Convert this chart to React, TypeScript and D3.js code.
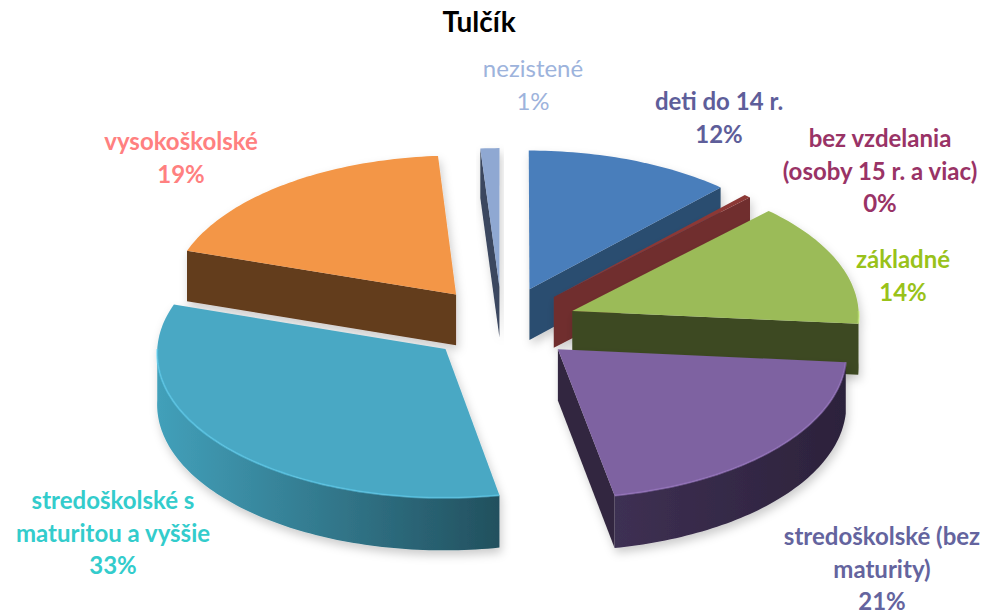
import React, { useMemo } from 'react';
import * as d3 from 'd3';

// chart data
const title = 'Tulčík';
const categories = [
  'deti do 14 r.',
  'bez vzdelania\n(osoby 15 r. a viac)',
  'základné',
  'stredoškolské (bez\nmaturity)',
  'stredoškolské s\nmaturitou a vyššie',
  'vysokoškolské',
  'nezistené',
];
const shares = [12.0, 0.4, 14.0, 20.6, 33.0, 18.9, 1.1];

// styling
const topColors = ['#4a7ebb', '#8c3836', '#9bbb59', '#7e62a1', '#4aa8c4', '#f39646', '#8fa8d2'];
const sideColors = ['#2c4d6f', '#702d2d', '#3e4a21', '#33283f', '#2f7a90', '#633c1e', '#3a465e'];
const wallLight = ['#365c84', '#7a3232', '#4a5a28', '#3e3053', '#42a0ba', '#6e4322', '#43506a'];
const wallDark = ['#243f5c', '#5e2626', '#37421c', '#2c223b', '#22505e', '#53321a', '#323c52'];
const labelColors = ['#5e5e9a', '#993366', '#99c21a', '#64649e', '#33cccc', '#ff8080', '#9db3dc'];
const labelBold = [true, true, true, true, true, true, false];
const labelPos = [[719, 110], [880, 147], [903, 268], [882, 545], [113, 509], [181, 150], [533, 77]];

const W = 987;
const H = 616;
const cx = 502, cy = 324;
const rx = 287, ry = 144;
const depth = 51;
const explode = 75;
const persp = 0.025;
const font = 'Lato, "Open Sans", sans-serif';

// model coords (x units) -> screen, with a light perspective toward the viewer
function project(mx: number, my: number, z: number): [number, number] {
  const f = 1 + persp * my / rx;
  return [cx + mx * f, cy + (my * (ry / rx) + z) * f];
}

export default function App() {
  const slices = useMemo(() => {
    const arcs = d3.pie<number>().sort(null).value(d => d)(shares);
    return arcs.map((a, i) => {
      const mid = (a.startAngle + a.endAngle) / 2;
      const ox = explode * Math.sin(mid);
      const oy = -explode * Math.cos(mid);
      const pt = (ang: number, z: number) => project(ox + rx * Math.sin(ang), oy - rx * Math.cos(ang), z);
      const vTop = project(ox, oy, 0);
      const vBot = project(ox, oy, depth);
      const sample = (a0: number, a1: number) => {
        const n = Math.max(2, Math.ceil(Math.abs(a1 - a0) / 0.02));
        return d3.range(n + 1).map(k => a0 + (a1 - a0) * k / n);
      };
      const line = d3.line();
      const top = line([vTop, ...sample(a.startAngle, a.endAngle).map(t => pt(t, 0))]) + 'Z';

      const walls: string[] = [];
      // radial walls that face the viewer
      if (Math.sin(a.startAngle) < 0) {
        walls.push(line([vTop, pt(a.startAngle, 0), pt(a.startAngle, depth), vBot]) + 'Z');
      }
      if (Math.sin(a.endAngle) > 0) {
        walls.push(line([vTop, pt(a.endAngle, 0), pt(a.endAngle, depth), vBot]) + 'Z');
      }
      let outer: string | null = null;
      let rim: string | null = null;
      const lo = Math.max(a.startAngle, Math.PI / 2);
      const hi = Math.min(a.endAngle, Math.PI * 1.5);
      if (lo < hi) {
        const s = sample(lo, hi);
        const upper = s.map(t => pt(t, 0));
        const lower = s.slice().reverse().map(t => pt(t, depth));
        outer = line([...upper, ...lower]) + 'Z';
        rim = line(upper);
      }
      return { i, mid, top, walls, outer, rim };
    });
  }, []);

  // paint back slices first
  const order = slices.slice().sort((p, q) => -Math.cos(p.mid) - -Math.cos(q.mid));

  return (
    <svg width={W} height={H} style={{ position: 'absolute', left: 0, top: 0, display: 'block', background: '#fff' }}>
      <defs>
        <filter id="shadow" x="-20%" y="-20%" width="140%" height="150%">
          <feDropShadow dx="2" dy="5" stdDeviation="5" floodColor="#000" floodOpacity="0.2" />
        </filter>
        {slices.map(s => (
          <linearGradient key={s.i} id={`wall${s.i}`} x1="0" x2="1" y1="0" y2="0">
            <stop offset="0" stopColor={wallLight[s.i]} />
            <stop offset="1" stopColor={wallDark[s.i]} />
          </linearGradient>
        ))}
      </defs>
      <rect width={W} height={H} fill="#fff" />
      <text x={479} y={32} textAnchor="middle" fontFamily={font} fontWeight="bold" fontSize={28} fill="#000">
        {title}
      </text>
      {order.map(s => (
        <g key={s.i} filter="url(#shadow)">
          {s.walls.map((w, k) => (
            <path key={k} d={w} fill={sideColors[s.i]} />
          ))}
          {s.outer && <path d={s.outer} fill={`url(#wall${s.i})`} />}
          <path d={s.top} fill={topColors[s.i]} />
          {s.rim && (
            <path d={s.rim} fill="none" stroke={d3.color(topColors[s.i])!.brighter(0.6).formatHex()}
              strokeWidth={2} strokeOpacity={0.55} />
          )}
        </g>
      ))}
      {categories.map((c, i) => {
        const lines = [...c.split('\n'), `${Math.round(shares[i])}%`];
        return (
          <text key={i} x={labelPos[i][0]} y={labelPos[i][1]} textAnchor="middle" fontFamily={font}
            fontWeight={labelBold[i] ? 'bold' : 'normal'} fontSize={24} fill={labelColors[i]}>
            {lines.map((l, k) => (
              <tspan key={k} x={labelPos[i][0]} dy={k === 0 ? 0 : 32.5}>{l}</tspan>
            ))}
          </text>
        );
      })}
    </svg>
  );
}
